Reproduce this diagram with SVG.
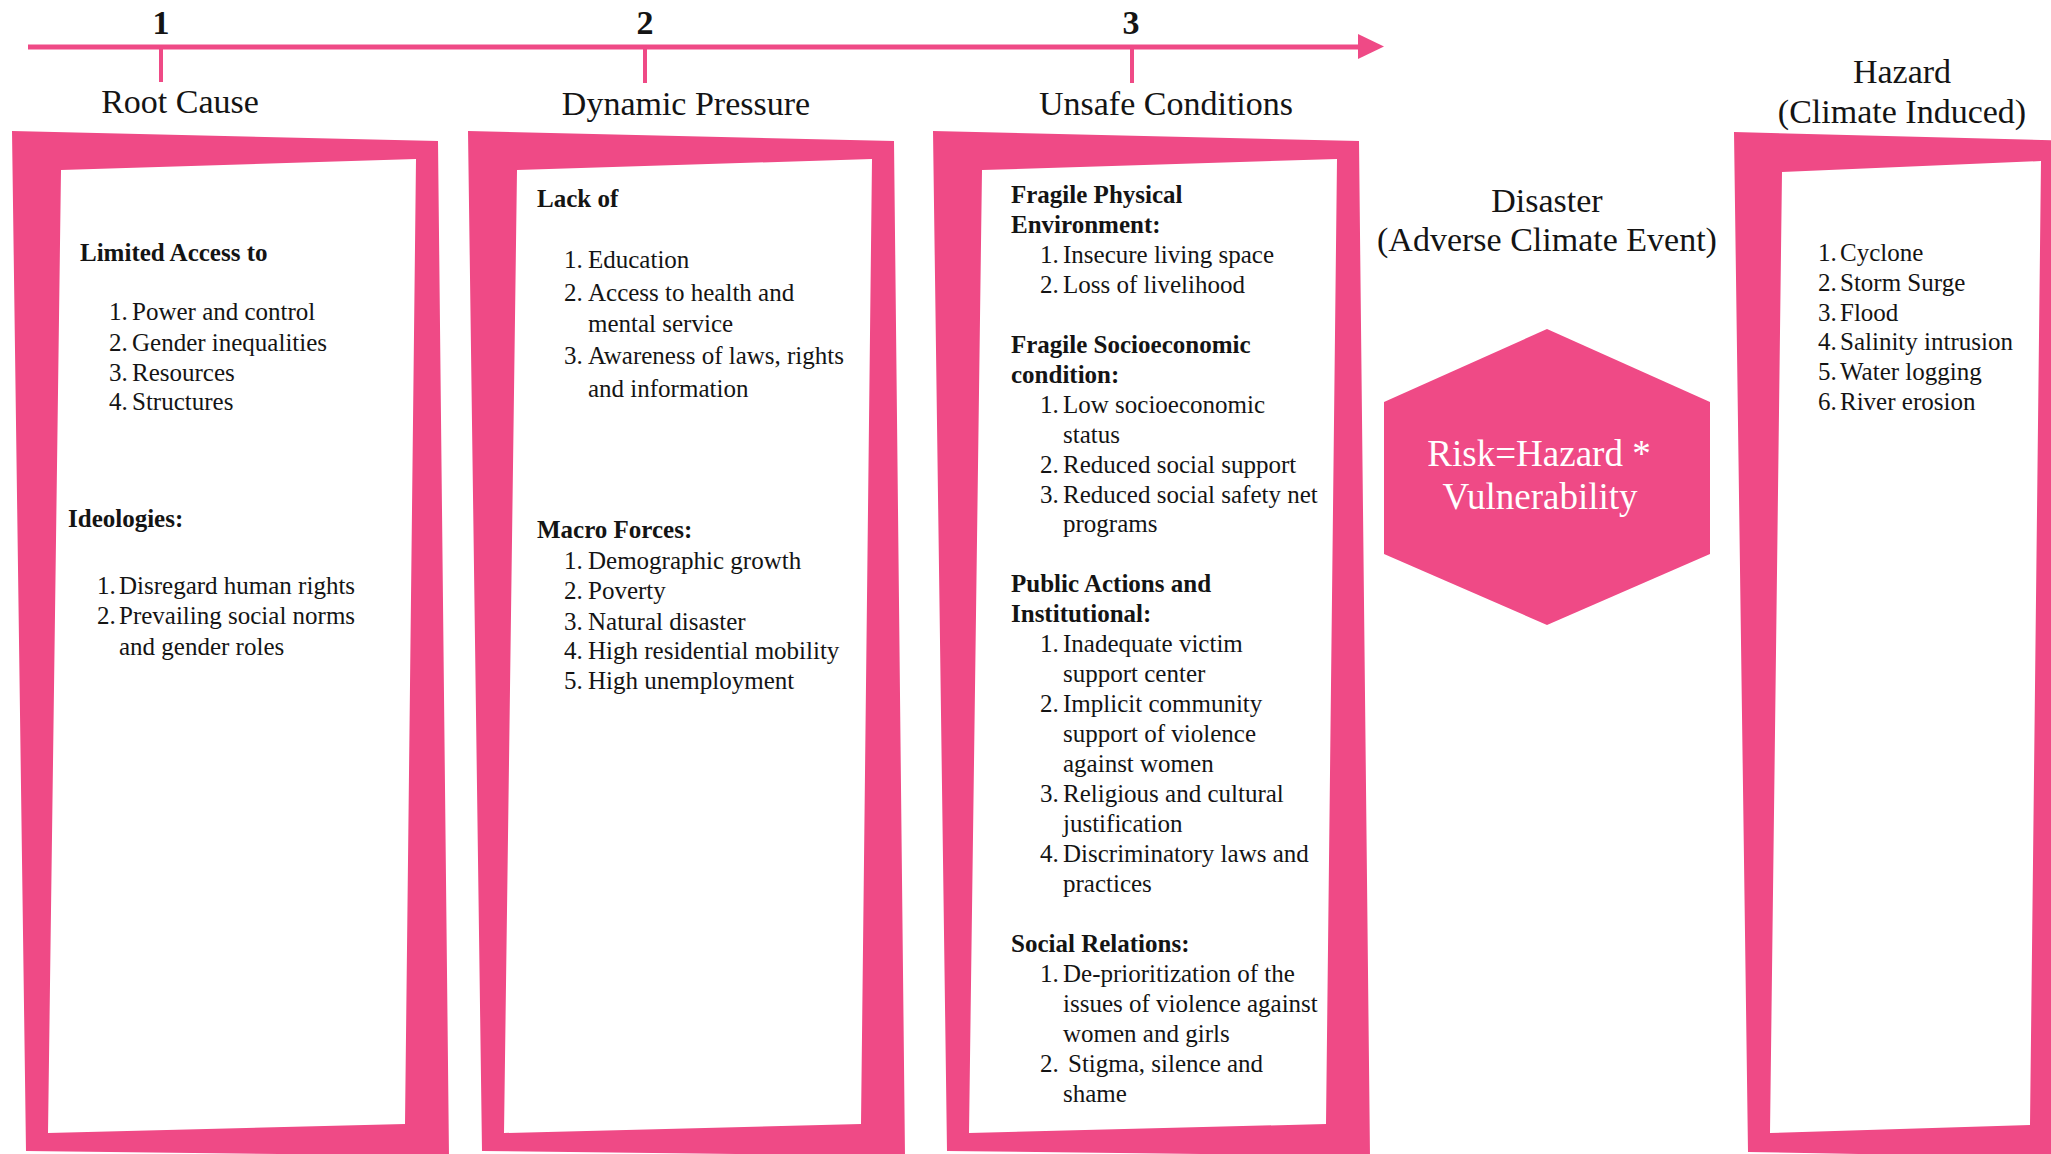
<svg xmlns="http://www.w3.org/2000/svg" xmlns:xlink="http://www.w3.org/1999/xlink" width="2051" height="1154" viewBox="0 0 2051 1154">
<style>
.pk{fill:#EF4A86}
.ln{stroke:#EF4A86;fill:none}
.t{font-family:"Liberation Serif","Times New Roman",serif;fill:#141414}
.body{font-size:25px}
.b{font-weight:bold}
.hd{font-size:34px;text-anchor:middle}
.num{font-size:34px;font-weight:bold;text-anchor:middle}
.risk{font-family:"Liberation Serif","Times New Roman",serif;font-size:37px;fill:#ffffff;text-anchor:middle}
</style>
<defs>
<path id="frame" fill-rule="evenodd" d="M12,131 L438,141 L449,1156 L26,1151 Z M61,170 L48,1133 L405,1124 L416,159 Z"/>
<marker id="arr" markerUnits="userSpaceOnUse" markerWidth="30" markerHeight="30" refX="2" refY="13" orient="auto">
<path d="M0,0 L26,12.5 L0,25 Z" fill="#EF4A86"/>
</marker>
</defs>
<rect width="2051" height="1154" fill="#ffffff"/>

<g id="connectors">
<line class="ln" x1="28" y1="47" x2="1360" y2="47" stroke-width="5" marker-end="url(#arr)"/>
<line class="ln" x1="161" y1="47" x2="161" y2="82" stroke-width="4"/>
<line class="ln" x1="645" y1="47" x2="645" y2="83" stroke-width="4"/>
<line class="ln" x1="1132" y1="47" x2="1132" y2="83" stroke-width="4"/>
</g>

<g id="timeline-labels">
<text class="t num" x="161" y="34">1</text>
<text class="t num" x="645" y="34">2</text>
<text class="t num" x="1131" y="34">3</text>
</g>

<g id="root-cause">
<text class="t hd" x="180" y="113">Root Cause</text>
<use xlink:href="#frame" class="pk"/>
<g class="t body">
<text class="b" x="80" y="261">Limited Access to</text>
<text y="320"><tspan x="109">1.</tspan><tspan x="132">Power and control</tspan></text>
<text y="351"><tspan x="109">2.</tspan><tspan x="132">Gender inequalities</tspan></text>
<text y="381"><tspan x="109">3.</tspan><tspan x="132">Resources</tspan></text>
<text y="410"><tspan x="109">4.</tspan><tspan x="132">Structures</tspan></text>
<text class="b" x="68" y="527">Ideologies:</text>
<text y="594"><tspan x="97">1.</tspan><tspan x="119">Disregard human rights</tspan></text>
<text y="624"><tspan x="97">2.</tspan><tspan x="119">Prevailing social norms</tspan></text>
<text x="119" y="655">and gender roles</text>
</g>
</g>

<g id="dynamic-pressure">
<text class="t hd" x="686" y="115">Dynamic Pressure</text>
<use xlink:href="#frame" class="pk" x="456"/>
<g class="t body">
<text class="b" x="537" y="207">Lack of</text>
<text y="268"><tspan x="564">1.</tspan><tspan x="588">Education</tspan></text>
<text y="301"><tspan x="564">2.</tspan><tspan x="588">Access to health and</tspan></text>
<text x="588" y="332">mental service</text>
<text y="364"><tspan x="564">3.</tspan><tspan x="588">Awareness of laws, rights</tspan></text>
<text x="588" y="397">and information</text>
<text class="b" x="537" y="538">Macro Forces:</text>
<text y="569"><tspan x="564">1.</tspan><tspan x="588">Demographic growth</tspan></text>
<text y="599"><tspan x="564">2.</tspan><tspan x="588">Poverty</tspan></text>
<text y="630"><tspan x="564">3.</tspan><tspan x="588">Natural disaster</tspan></text>
<text y="659"><tspan x="564">4.</tspan><tspan x="588">High residential mobility</tspan></text>
<text y="689"><tspan x="564">5.</tspan><tspan x="588">High unemployment</tspan></text>
</g>
</g>

<g id="unsafe-conditions">
<text class="t hd" x="1166" y="115">Unsafe Conditions</text>
<use xlink:href="#frame" class="pk" x="921"/>
<g class="t body">
<text class="b" x="1011" y="203">Fragile Physical</text>
<text class="b" x="1011" y="233">Environment:</text>
<text y="263"><tspan x="1040">1.</tspan><tspan x="1063">Insecure living space</tspan></text>
<text y="293"><tspan x="1040">2.</tspan><tspan x="1063">Loss of livelihood</tspan></text>
<text class="b" x="1011" y="353">Fragile Socioeconomic</text>
<text class="b" x="1011" y="383">condition:</text>
<text y="413"><tspan x="1040">1.</tspan><tspan x="1063">Low socioeconomic</tspan></text>
<text x="1063" y="443">status</text>
<text y="473"><tspan x="1040">2.</tspan><tspan x="1063">Reduced social support</tspan></text>
<text y="503"><tspan x="1040">3.</tspan><tspan x="1063">Reduced social safety net</tspan></text>
<text x="1063" y="532">programs</text>
<text class="b" x="1011" y="592">Public Actions and</text>
<text class="b" x="1011" y="622">Institutional:</text>
<text y="652"><tspan x="1040">1.</tspan><tspan x="1063">Inadequate victim</tspan></text>
<text x="1063" y="682">support center</text>
<text y="712"><tspan x="1040">2.</tspan><tspan x="1063">Implicit community</tspan></text>
<text x="1063" y="742">support of violence</text>
<text x="1063" y="772">against women</text>
<text y="802"><tspan x="1040">3.</tspan><tspan x="1063">Religious and cultural</tspan></text>
<text x="1063" y="832">justification</text>
<text y="862"><tspan x="1040">4.</tspan><tspan x="1063">Discriminatory laws and</tspan></text>
<text x="1063" y="892">practices</text>
<text class="b" x="1011" y="952">Social Relations:</text>
<text y="982"><tspan x="1040">1.</tspan><tspan x="1063">De-prioritization of the</tspan></text>
<text x="1063" y="1012">issues of violence against</text>
<text x="1063" y="1042">women and girls</text>
<text y="1072"><tspan x="1040">2.</tspan><tspan x="1068">Stigma, silence and</tspan></text>
<text x="1063" y="1102">shame</text>
</g>
</g>

<g id="disaster">
<text class="t hd" x="1547" y="212">Disaster</text>
<text class="t hd" x="1547" y="251">(Adverse Climate Event)</text>
<polygon class="pk" points="1547,329 1710,402 1710,554 1547,625 1384,554 1384,402"/>
<text class="risk" x="1539" y="466">Risk=Hazard *</text>
<text class="risk" x="1540" y="509">Vulnerability</text>
</g>

<g id="hazard">
<text class="t hd" x="1902" y="83">Hazard</text>
<text class="t hd" x="1902" y="123">(Climate Induced)</text>
<path class="pk" fill-rule="evenodd" d="M1734,132 L2080,141 L2080,1158 L1748,1152 Z M1782,172 L1770,1133 L2030,1125 L2041,161 Z"/>
<g class="t body">
<text y="261"><tspan x="1818">1.</tspan><tspan x="1840">Cyclone</tspan></text>
<text y="291"><tspan x="1818">2.</tspan><tspan x="1840">Storm Surge</tspan></text>
<text y="321"><tspan x="1818">3.</tspan><tspan x="1840">Flood</tspan></text>
<text y="350"><tspan x="1818">4.</tspan><tspan x="1840">Salinity intrusion</tspan></text>
<text y="380"><tspan x="1818">5.</tspan><tspan x="1840">Water logging</tspan></text>
<text y="410"><tspan x="1818">6.</tspan><tspan x="1840">River erosion</tspan></text>
</g>
</g>
</svg>
